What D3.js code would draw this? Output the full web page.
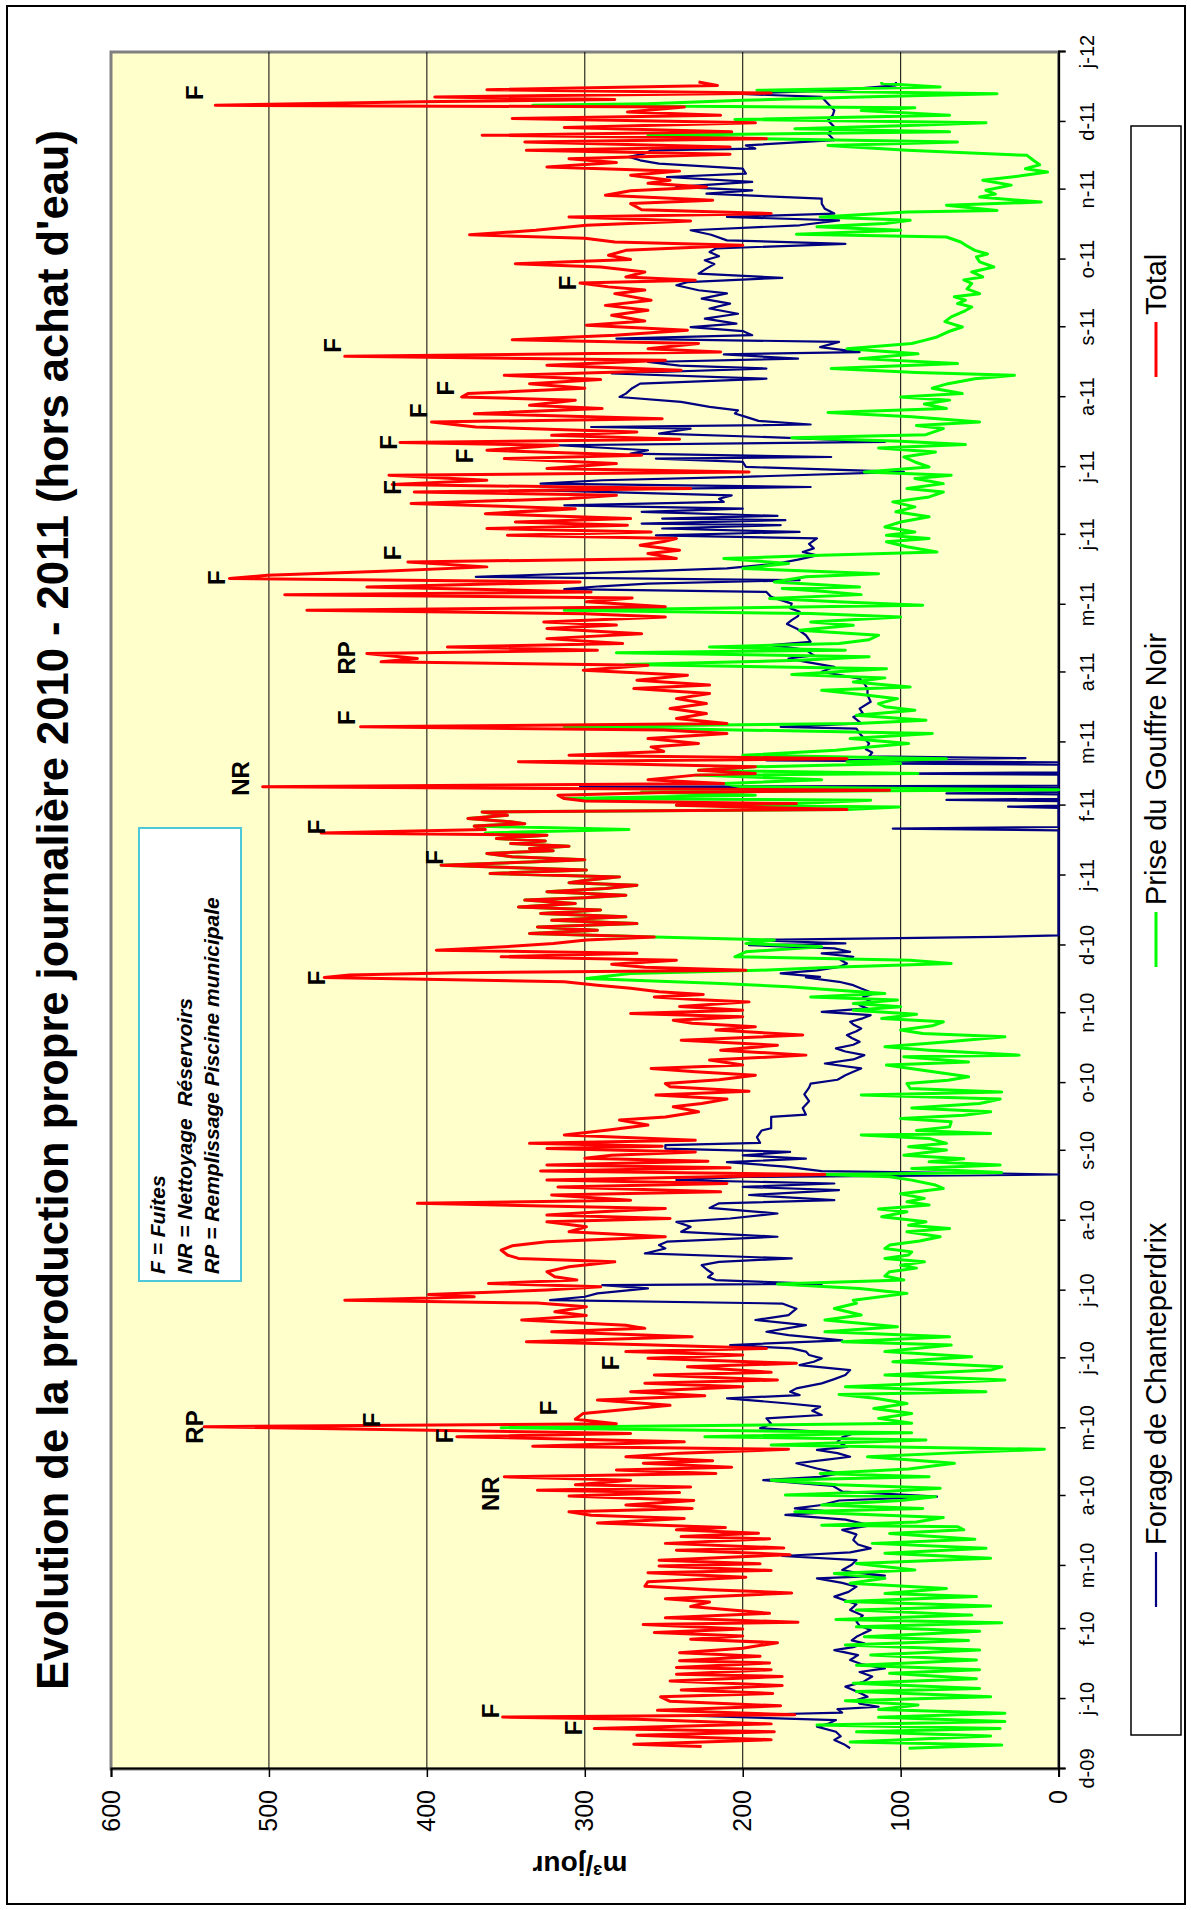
<!DOCTYPE html>
<html><head><meta charset="utf-8">
<script src="https://cdn.jsdelivr.net/npm/d3@7"></script>
<style>
body{margin:0;background:#fff}
text{font-family:"Liberation Sans",Arial,sans-serif}
</style>
</head><body>
<svg id="c" width="1191" height="1910"></svg>
<script>
// ---------- DATA (day offset from 2009-12-01, m3/jour) ----------
const tickLabels = ["d-09","j-10","f-10","m-10","a-10","m-10","j-10","j-10","a-10","s-10","o-10","n-10","d-10","j-11","f-11","m-11","a-11","m-11","j-11","j-11","a-11","s-11","o-11","n-11","d-11","j-12"];
const yTicks = [0,100,200,300,400,500,600];
const seriesNames = ["Forage de Chanteperdrix","Prise du Gouffre Noir","Total"];
const seriesColors = ["#000080","#00FF00","#FF0000"];

const totalPts = [[10,226],[11,269],[13,182],[15,267],[16.5,180],[18,294],[20,182],[22,267],[23,352],[24,167],[26,254],[28,176],[30,246],[32,252],[33.5,181],[35,239],[37,175],[39,246],[41,175],[42,242],[44,182],[45,242],[47,183],[48,240],[50,189],[51.5,240],[53.5,200],[56,178],[57.5,233],[59,200],[60.5,256],[62,200],[64,263],[65,165],[67,249],[69,183],[72,233],[74,221],[75.5,249],[78,169],[79.5,221],[81,262],[83,260],[85,198],[87,260],[88,182],[90,253],[91,189],[92.5,253],[95,170],[97,242],[98,174],[100,249],[102,183],[103,239],[104.5,190],[106,242],[107,211],[109,292],[111,237],[112.5,296],[114,310],[115.5,232],[117,274],[119,231],[121,310],[122.5,240],[123.6,330],[125,233],[126,306],[128,271],[129.5,351],[131,217],[132.5,280],[133.7,207],[135.5,263],[136.6,219],[138.4,274],[140,240],[141.7,171],[143,333],[145,237],[147.3,381],[148.7,271],
[151.7,541],[153,280],[155,306],[157.6,301],[161.2,246],[163.5,292],[165.4,224],[167.2,271],[169.4,200],[171,262],[172.4,178],[174.6,256],[175.8,182],[178.3,235],[179.8,166],[182,260],[183.5,200],[185,274],[186.4,185],[188,262],[189.4,337],[191.6,232],[193.8,321],[195.3,262],[196.7,274],[199,340],[201,299],[202.7,319],[204.9,299],[206.5,330],[207.8,452],[209.3,370],[210.3,399],[212.3,324],[213.7,290],[215.2,361],[216.7,305],[218.2,319],[220.4,324],[222.6,310],[224.8,281],[226.3,342],[227.8,349],[230,353],[231.9,346],[233.7,324],[235.9,249],[238.1,310],[240.3,299],[242.5,324],[244,246],[245.5,324],[247,290],[248.4,249],[250.7,406],[252.1,271],[254.4,321],[255.8,214],[258,317],[259.5,210],[261,324],[263.5,148],[265,328],[266.5,208],[267.7,324],[269.4,222],[270.7,300],[272,283],[273.5,230],[275,324],[276,251],[277.3,335],[278.7,230],[281,313],[283.2,285],[285.4,260],[287.6,278],[289,249],[291.3,228],[293.5,244],[295,226],[296.9,210],[298.7,255],[300.4,196],[302.4,246],
[303.8,249],[305.5,215],[307.5,192],[309,230],[310.5,258],[312,200],[314.2,221],[316.4,160],[318.6,214],[320.8,178],[323,239],[325.3,162],[327.5,217],[329,192],[330.5,232],[331.9,244],[333.4,200],[334.9,271],[336.3,200],[338,240],[340,196],[341,230],[342.2,256],[343.3,225],[344.5,253],[346,271],[347.4,292],[348.9,313],[350.8,465],[351.9,449],[352.9,381],[354,198],[355.3,262],[356.7,283],[358.5,242],[360,353],[361.5,267],[362.9,394],[364.4,351],[365.9,320],[367.4,299],[368.8,256],[370.3,335],[371.8,292],[373.2,330],[374.7,267],[376.2,321],[377.7,274],[379.2,328],[380.7,290],[382.1,342],[383.6,306],[385.1,338],[386.2,300],[387.3,274],[388.8,324],[390.3,287],[391.7,267],[392.8,310],[393.9,299],[395.4,278],[396.9,360],[398.4,299],[400.6,391],[402,335],[403,300],[404.3,346],[405.8,362],[407,320],[408,335],[409,310],[410.2,347],[411.3,325],[412.4,356],[413.9,324],[414.9,467],[416.4,363],[417.9,370],[419,338],[419.8,347],[421.3,374],[422.7,349],[424.2,365],[425.3,134],[426.4,200],[427.2,242],[427.9,166],[429,300],[430.1,313],[431.6,317],[432.8,250],[433.8,107],[435.3,504],[436.8,212],[438.5,260],[440.5,230],[441.2,192],[442.7,228],[444.2,192],[446.4,342],[447.8,134],[449.3,310],[451,250],[453,258],[454.5,228],
[456.7,260],[459,210],[460.5,250],[461.9,442],[463.4,210],[465.6,242],[467.8,223],[470,246],[472.2,223],[474.4,242],[476.7,221],[478.9,269],[480.4,221],[482.6,267],[484.8,235],[487,301],[489.2,260],[490.7,429],[492.2,406],[494.4,438],[495.9,292],[497.3,387],[498.8,276],[501,324],[503.2,264],[505.5,324],[507,280],[508.4,326],[510.6,249],[512,300],[513.6,476],[515.1,249],[517.3,299],[519,270],[520.5,490],[521.7,296],[523.9,438],[526.1,303],[527.6,525],[529.1,501],[530.9,428],[532.8,362],[535,412],[536.5,242],[538.7,260],[540.2,240],[542.4,265],[544,250],[545.4,242],[546.8,349],[548.3,258],[549.8,362],[551.3,273],[552.7,344],[554.2,271],[556.4,363],[558.6,306],[560.9,410],[563.1,310],[564.5,280],[566,408],[567.5,233],[569.3,422],[571.2,362],[573.4,424],[574.9,196],[576.4,324],[578.6,280],[580.8,351],[582.3,264],[584.5,362],[586.7,317],[587.9,417],[589.4,240],[591.1,321],[592.6,267],[594.8,369],[597,397],[598.5,251],[600.7,370],[603,289],[604.4,335],[606.7,306],[608.1,378],
[609.6,374],[612,300],[614,335],[615.8,290],[617.7,351],[620,239],[622.2,324],[624.4,249],[626.1,452],[628,214],[629.5,260],[631.8,228],[633.5,346],[635.5,281],[637.7,235],[639.9,299],[641.8,262],[644.3,283],[646.5,260],[648.7,287],[651,258],[653.9,281],[655.5,262],[656.9,285],[658.6,303],[659.8,230],[661.3,274],[663.5,262],[665.7,290],[667.2,344],[669,271],[670.9,285],[673.1,274],[675.3,200],[676.8,281],[678.5,300],[680,373],[682,331],[684.2,299],[686.1,233],[687.9,310],[689.4,182],[691.1,264],[693.8,271],[695.3,219],[697.5,287],[699.5,271],[701.2,223],[702.8,260],[704.2,246],[706.4,271],[708.2,240],[710,324],[712,280],[713.7,310],[715.7,208],[717.4,337],[718.9,208],[721.1,338],[722.6,185],[724.1,365],[725.6,207],[727.5,313],[729.6,192],[731.5,346],[733,214],[734.4,273],[736.6,237],[737.4,534],[738.9,404],[739.9,281],[741.1,395],[742.8,182],[744.3,362],[746.2,216],[747.7,228]];

const chantePts = [[9.2,132],[11,136],[12.9,142],[14.5,138],[16.5,141],[18.8,153],[20,146],[21.7,141],[23.5,228],[25,137],[26.5,140],[27.6,114],[29,126],[30.6,128],[32,121],[33.5,125],[35,130],[36.5,135],[38.5,124],[41,118],[43,126],[44.6,110],[46.5,125],[48.3,132],[50.5,127],[52.7,142],[54,130],[55.7,123],[57,131],[58.6,128],[60,124],[61.6,119],[63.5,126],[65.3,128],[68,124],[70.5,132],[73,128],[76.4,142],[78.5,133],[80.8,128],[82.5,137],[84.5,153],[85.7,110],[87,128],[88.2,137],[90.5,131],[92.6,128],[94.4,175],[96,132],[97.8,119],[99.5,127],[101.5,130],[104,128],[106,137],[108,119],[110.5,135],[112.6,173],[114,142],[115.5,167],[117,150],[119,139],[120.7,77],[122.2,114],[123,137],[125.5,143],[128,187],[129.5,151],[131,139],[133.2,153],[135.5,166],[137,148],[138.4,132],[140,140],[141.4,153],[142.8,134],[145,140],[147,137],[148.7,130],
[151,189],[153,182],[155.4,185],[156.9,150],[158.8,156],[160.6,151],[162,171],[164.3,210],[165.7,164],[167.2,170],[168.7,166],[170.9,150],[172.8,142],[174.6,135],[176.8,132],[179,164],[180.5,155],[182,150],[183.5,158],[185,160],[186.4,169],[187.9,208],[190,137],[192.3,171],[193.8,185],[196.7,160],[199,192],[201.2,171],[204,166],[206.3,175],[207.8,322],[209.3,300],[210.8,292],[213,260],[214.5,289],[215,150],[216.7,217],[218,222],[219.6,219],[221.5,223],[223.3,226],[224.8,215],[226.3,169],[228.5,262],[230.7,249],[232.2,253],[233.7,248],[235.9,178],[238.1,239],[240.3,233],[242.5,242],[244,208],[246.2,178],[248.7,221],[250.7,215],[252.1,142],[254.4,196],[256.6,139],[258,200],[259.5,142],[261,242],[262.4,200],[263.5,0],[265,150],[267,173],[269,210],[270.5,160],[272,200],[273.5,170],[275,249],[276.5,249],[277.5,189],[280,191],[283,188],[284,182],[289,182],[290,160],[293,162],[296,158],[299,161],[302,158],
[303.8,157],[305.5,140],[307.5,135],[309,130],[310.5,125],[312.7,148],[314.5,130],[316.4,123],[318,135],[319.4,141],[321,130],[322.3,126],[324,131],[325.3,134],[327,128],[328.2,125],[330,130],[331.2,132],[332.7,124],[334.1,119],[335.6,150],[337.1,121],[338.5,126],[340.1,119],[342,124],[343.7,117],[345.9,125],[347.4,130],[348.9,139],[350.8,160],[351.1,151],[352.6,176],[354,153],[355.5,139],[357,134],[358.5,138],[360,130],[361.5,150],[362.2,132],[363.7,142],[365.1,196],[365.9,135],[367.4,196],[368.8,40],[369.5,0],[416,0],[416.8,105],[417.5,0],[426,0],[426.5,32],[427,0],[429,0],[429.5,71],[430,0],[432,0],[432.4,71],[433,0],[434.8,0],[435.3,303],[435.8,0],[440.7,0],[441.2,103],[441.7,0],[445.1,0],[445.6,101],[446.2,0],[447,185],[448,21],[448.8,120],[450.5,118],[452,122],[454.5,120],
[456.7,123],[459,126],[461.1,128],[461.9,176],[463.4,125],[466.3,130],[468,124],[470,126],[473,119],[476,121],[478.9,121],[481,123],[483.3,126],[486.3,150],[488.5,142],[490.7,160],[492.2,171],[493.6,155],[496,160],[498.1,182],[499.6,157],[502.5,160],[505.5,166],[507.5,172],[509.2,169],[511,165],[512.9,164],[514.5,170],[516.5,169],[519.5,182],[521.7,185],[522.9,313],[524.2,290],[525.4,260],[526.9,164],[528.4,369],[530.6,274],[532.1,210],[534.3,178],[536,165],[537.9,153],[539.4,162],[541,155],[543,158],[545.4,153],[546.8,255],[548.3,164],[549.8,251],[551.3,176],[552,264],[553.5,173],[554.2,251],[555.4,178],[557.2,264],[558.6,200],[560.1,313],[561.6,212],[563,215],[564.5,207],[566.8,333],[568.2,157],[569.7,328],[571.2,289],[572.7,200],[574.9,98],[577.1,198],[579.3,200],[580.8,255],[581.5,144],[583,271],[584.5,260],[586.7,317],[588.2,110],[590,171],[591.9,253],[594.1,233],[594.8,296],[595.9,157],[597.5,190],[599.3,198],[600.8,205],[602.2,203],[603.7,221],[605.9,239],[608.1,278],
[609.6,274],[612,270],[614,265],[616.2,185],[618.5,283],[620.7,185],[622,240],[623.6,260],[625.1,165],[627,212],[628,126],[630.2,151],[632.5,139],[634,280],[635.5,194],[637.3,200],[639.1,233],[640.6,204],[642.8,224],[645,203],[647.3,221],[649.5,208],[651.7,226],[654,210],[655.4,228],[657.6,242],[659,235],[660.9,175],[662.8,228],[665,223],[667,218],[668.7,224],[670.5,215],[672.4,221],[673.9,217],[676,135],[677.5,210],[680,220],[682,233],[684.2,164],[686.4,139],[687.9,210],[689.4,142],[691.5,148],[693.8,150],[696,150],[698.2,223],[699.7,194],[701.2,242],[703.4,194],[705.6,248],[707.1,198],[709.3,200],[711.5,253],[713,265],[714.5,272],[716,262],[717.4,258],[718.2,192],[719.6,198],[721.9,142],[724.8,146],[727.8,142],[730.7,146],[733,143],[735.1,142],[738.1,146],[741.1,150],[742.5,205],[744,141],[746.2,103],[747.7,103]];

const gouffrePts = [[9.2,95],[10.6,36],[12,132],[14.6,43],[16.5,128],[18,37],[19.5,153],[21,34],[22.9,114],[24.7,34],[26.4,114],[28.4,89],[30.3,135],[32,43],[34.3,128],[35.7,50],[38,130],[40,52],[42.4,107],[44,50],[46,128],[48.3,52],[50.5,119],[52.7,50],[55,135],[57,57],[58.6,123],[61,50],[63,128],[64.8,36],[66.3,141],[68.2,55],[70.5,128],[72.2,43],[74.2,135],[76.4,52],[77.8,110],[80,71],[82.3,132],[84.5,110],[86.7,142],[88.2,91],[91.1,128],[93.4,43],[95.6,110],[97.8,46],[100,118],[101.8,53],[104.4,107],[106,60],[107.4,64],[108,150],[109.5,90],[111.5,73],[114,167],[115.5,86],[117,150],[119,100],[120.7,78],[121.4,173],[123,110],[124.4,75],[126,140],[128,182],[129.5,82],[131,151],[133,95],[135.5,66],[138.4,121],[140,70],[141.7,9],[143.6,182],[145.8,84],[147.3,224],[149,93],
[151.3,353],[153.2,93],[155.4,114],[157.6,93],[159.8,117],[162,96],[164.3,116],[166,139],[167.2,46],[169.4,135],[172.4,34],[174.6,110],[176.8,43],[178.3,36],[180.5,105],[182.7,55],[185,110],[187.9,68],[189.4,137],[191.6,69],[193.8,148],[196,102],[199,148],[201.2,125],[204.1,142],[206.4,128],[207.8,130],[210.8,96],[213,126],[215,178],[216.7,98],[218.5,110],[220.4,107],[222,90],[223.3,100],[224.8,85],[226.3,110],[227.8,95],[229.2,93],[230.7,110],[232.2,107],[234,88],[235.9,75],[238.1,96],[239.6,69],[241,95],[242.5,84],[244.8,112],[247,96],[248.2,114],[250,82],[251.4,96],[252.9,85],[255,100],[257.3,73],[258.8,78],[261,93],[262.5,107],[263.5,148],[264.4,36],[266.2,93],[267.7,37],[269.1,82],[270.5,60],[272,98],[274.3,71],[275.8,95],[277.3,71],[279.5,82],[281,125],[281.7,43],[283,90],[284.6,69],[286.9,68],[288.3,100],[289.8,60],[291.3,43],[293,93],[295,50],[296.9,37],[298.7,125],[300.1,36],[301.6,94],
[303.8,96],[305.3,70],[306.8,57],[309.7,86],[312,109],[313.4,57],[315.7,98],[316.4,25],[318.6,82],[320.1,110],[322.3,70],[324.5,34],[326,86],[327.5,100],[329.4,80],[331.2,73],[332.6,112],[334.5,90],[336.3,130],[337.8,100],[339.3,130],[340.8,102],[342.2,157],[343.7,110],[345.2,140],[346.7,171],[348.2,214],[350.4,299],[351.5,285],[352.6,271],[354,190],[355.5,139],[357,68],[358.5,94],[360,205],[362.2,198],[364.4,150],[365.9,198],[367.4,180],
[368.8,256],[370.3,335],[371.8,292],[373.2,330],[374.7,267],[376.2,321],[377.7,274],[379.2,328],[380.7,290],[382.1,342],[383.6,306],[385.1,338],[386.2,300],[387.3,274],[388.8,324],[390.3,287],[391.7,267],[392.8,310],[393.9,299],[395.4,278],[396.9,360],[398.4,299],[400.6,391],[402,335],[403,300],[404.3,346],[405.8,362],[407,320],[408,335],[409,310],[410.2,347],[411.3,325],[412.4,356],[413.9,324],[414.9,363],[416.4,272],[417.9,370],[419,338],[419.8,347],[421.3,374],[422.7,349],[424.2,365],
[425.3,134],[426.4,101],[427.2,242],[427.9,166],[429.4,119],[430.1,313],[431.6,192],[433,264],[434,0],[435.3,201],[436.8,212],[438.5,150],[440.5,230],[441.2,89],[442.7,228],[444.2,192],[445.6,100],[446.4,134],[447.8,71],[449.3,200],[451.5,141],[453,120],[454.5,95],
[456.7,132],[459,80],[461.9,313],[463.4,128],[464.8,84],[467,128],[469.3,91],[470.8,110],[472.2,114],[474.4,102],[476.2,125],[478.1,150],[479.6,94],[481.8,130],[483.6,110],[485.1,169],[487.7,109],[489.5,274],[491.4,164],[493,120],[494.7,280],[495.9,135],[497.3,221],[498.8,139],[500.5,120],[502.5,114],[504.7,164],[506.9,130],[508.4,157],[510.6,100],[512.1,157],[513.6,313],[515.8,86],[517.3,140],[518.8,183],[520.5,125],[522,150],[523.2,175],[523.9,126],[526.1,180],[528.4,160],[529.8,114],[532.1,200],[534.3,171],[536.5,212],[538,150],[539.4,77],[541.7,96],[543.9,109],[545.4,82],[546.8,109],[548.3,91],[550.5,110],[552.7,100],[555,82],[557.2,103],[559.4,91],[561.6,105],[563.8,82],[566,73],[567.5,96],[569.7,73],[572,91],[573.4,68],[574.9,123],[577.1,82],[579.3,91],[581.5,98],[583.7,78],[585.5,114],[587,59],[588.5,100],[590,169],[591.4,84],[594.1,73],[595.5,90],[597,50],[599.3,93],[601.2,146],[603,71],[605,85],[606.7,69],[608.1,100],
[609.6,61],[612,80],[614,70],[616.2,53],[617.7,28],[619,90],[620.7,144],[622.9,64],[625.1,126],[627.3,89],[629.5,134],[631.8,93],[633.2,85],[634.7,77],[637,70],[639.1,61],[641.5,72],[643.6,68],[646,60],[648,55],[649.5,64],[651,59],[652.5,66],[653.9,50],[656,58],[658.4,55],[660,60],[661.3,48],[663.5,55],[665.7,41],[668,50],[670.2,52],[671.5,45],[673.1,53],[675,58],[676.8,62],[679,71],[680.2,166],[682,100],[683.5,153],[685,110],[686.4,94],[687.9,151],[690.1,96],[690.8,39],[693.1,71],[694.5,11],[696.7,50],[698,40],[699.7,46],[702,30],[704.2,48],[706,25],[707.8,7],[709.3,21],[711,12],[713,16],[715.2,20],[717.4,96],[719.6,146],[721.1,64],[722.6,192],[724.1,260],[725.6,69],[727,167],[728.3,100],[729.6,46],[731.1,205],[733,69],[735.1,125],[736.3,91],[737.4,333],[738.1,260],[739.6,200],[741.1,126],[742.5,39],[744,191],[745.5,75],[747,112],[747.7,112]];

const annotTexts = ["F","F","NR","F","RP","F","F","F","F","F","F","NR","F","RP","F","F","F","F","F","F","F","F","F","F"];
const annotDays  = [25.7,18.2,122,147.6,151.6,154.7,160,180,350.6,404,417.6,439,466,492.5,528,539,568,588,582,602,612,631,658.7,743];
const annotVals  = [360,307,360,389,547,435,323,284,470,395,470,518,451,451,533,422,422,424,376,405,388,460,311,547];

const noteLines = ["F = Fuites","NR = Nettoyage  Réservoirs","RP = Remplissage Piscine municipale"];
const titleText = "Evolution de la production propre journalière 2010 - 2011 (hors achat d'eau)";
const yTitle = "m³/jour";

// ---------- DRAW ----------
const svg = d3.select("#c");
svg.append("rect").attr("width",1191).attr("height",1910).attr("fill","#fff");
// landscape chart rotated -90deg onto the portrait page
const g = svg.append("g").attr("transform","translate(0,1910) rotate(-90)");

g.append("rect").attr("x",6).attr("y",7).attr("width",1898).attr("height",1178)
  .attr("fill","#fff").attr("stroke","#000").attr("stroke-width",2);

const P = {left:141, right:1858, top:111, bottom:1058.6};
const base = new Date(2009,11,1);
const toDate = d => new Date(base.getTime() + d*864e5);
const x = d3.scaleTime().domain([new Date(2009,11,1), new Date(2012,0,1)]).range([P.left,P.right]);
const y = d3.scaleLinear().domain([0,600]).range([P.bottom,P.top]);

g.append("rect").attr("x",P.left).attr("y",P.top).attr("width",P.right-P.left).attr("height",P.bottom-P.top)
  .attr("fill","#FFFFCC").attr("stroke","#808080").attr("stroke-width",3);

g.append("g").selectAll("line").data(yTicks.filter(v=>v>0&&v<600)).join("line")
  .attr("x1",P.left).attr("x2",P.right).attr("y1",d=>y(d)).attr("y2",d=>y(d))
  .attr("stroke","#000").attr("stroke-width",1);

// axes
const monthDates = d3.timeMonth.range(new Date(2009,11,1), new Date(2012,0,2));
const xAxis = d3.axisBottom(x).tickValues(monthDates).tickSize(7).tickPadding(14)
  .tickFormat((d,i)=>tickLabels[i]);
const gx = g.append("g").attr("transform",`translate(0,${P.bottom})`).call(xAxis);
gx.select(".domain").attr("stroke","#000").attr("stroke-width",2);
gx.selectAll(".tick line").attr("stroke","#000").attr("stroke-width",1.5);
gx.selectAll("text").attr("font-size",20).attr("fill","#000").attr("font-family","Liberation Sans, Arial, sans-serif");

const yAxis = d3.axisLeft(y).tickValues(yTicks).tickSize(8).tickPadding(13);
const gy = g.append("g").attr("transform",`translate(${P.left},0)`).call(yAxis);
gy.select(".domain").attr("stroke","#000").attr("stroke-width",2);
gy.selectAll(".tick line").attr("stroke","#000").attr("stroke-width",1.5);
gy.selectAll("text").attr("font-size",25).attr("fill","#000").attr("font-family","Liberation Sans, Arial, sans-serif");

// series
const line = d3.line().x(d=>x(toDate(d[0]))).y(d=>y(d[1]));
const series = [
  {pts:chantePts, color:seriesColors[0], w:2.2},
  {pts:gouffrePts, color:seriesColors[1], w:3},
  {pts:totalPts, color:seriesColors[2], w:3}
];
series.forEach(s=>{
  g.append("path").datum(s.pts).attr("d",line).attr("fill","none")
   .attr("stroke",s.color).attr("stroke-width",s.w).attr("stroke-linejoin","round");
});

// annotations on the curve
g.append("g").selectAll("text").data(annotTexts).join("text")
  .attr("x",(d,i)=>x(toDate(annotDays[i]))).attr("y",(d,i)=>y(annotVals[i]))
  .attr("text-anchor","middle").attr("dominant-baseline","central")
  .attr("font-size",24).attr("font-weight","bold").attr("fill","#000").text(d=>d);

// note box
g.append("rect").attr("x",629).attr("y",139).attr("width",453).attr("height",102)
  .attr("fill","#fff").attr("stroke","#4CC8D8").attr("stroke-width",2);
g.append("g").selectAll("text").data(noteLines).join("text")
  .attr("x",636).attr("y",(d,i)=>165+i*27)
  .attr("font-size",21).attr("font-weight","bold").attr("font-style","italic")
  .attr("fill","#000").attr("xml:space","preserve").style("white-space","pre").text(d=>d);

// title
g.append("text").attr("x",1000).attr("y",68).attr("text-anchor","middle")
  .attr("font-size",43.5).attr("font-weight","bold").attr("fill","#000").text(titleText);

// y title
g.append("text").attr("transform","translate(54,580) rotate(-90)").attr("text-anchor","middle")
  .attr("font-size",28).attr("font-weight","bold").attr("fill","#000").text(yTitle);

// legend
const lg = g.append("g");
lg.append("rect").attr("x",175).attr("y",1131).attr("width",1609).attr("height",50)
  .attr("fill","#fff").attr("stroke","#000").attr("stroke-width",1.5);
const legX = [303, 943, 1533];
seriesNames.forEach((n,i)=>{
  lg.append("line").attr("x1",legX[i]).attr("x2",legX[i]+55).attr("y1",1156).attr("y2",1156)
    .attr("stroke",seriesColors[i]).attr("stroke-width",i===0?2.2:3);
  lg.append("text").attr("x",legX[i]+62).attr("y",1166).attr("font-size",29)
    .attr("fill","#000").text(n);
});
</script>
</body></html>
